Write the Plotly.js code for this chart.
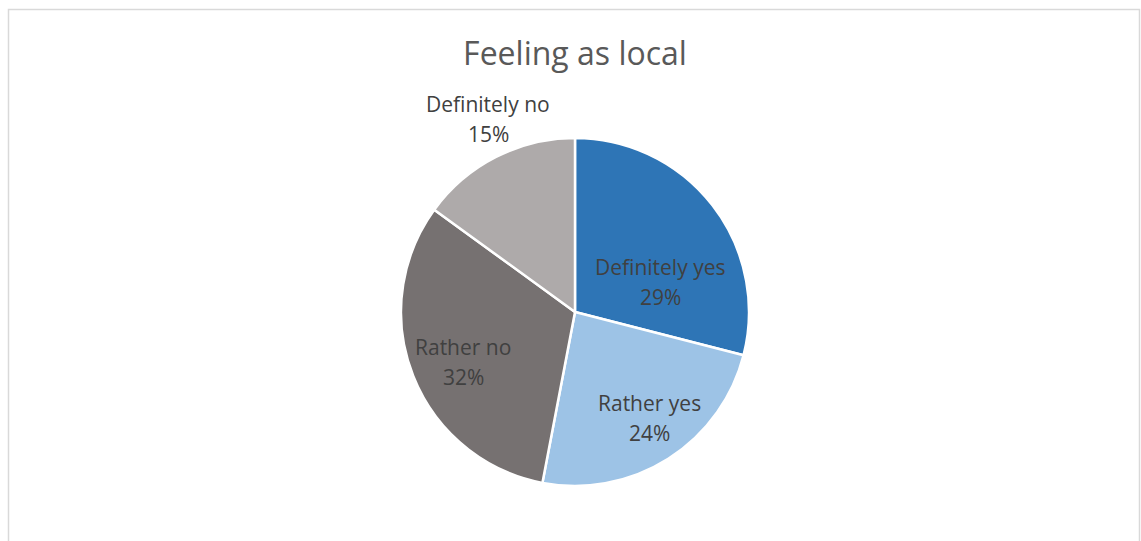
<!DOCTYPE html>
<html><head><meta charset="utf-8">
<script src="https://cdn.plot.ly/plotly-3.0.1.min.js"></script>
<style>html,body{margin:0;padding:0;background:#fff}#chart{width:1141px;height:541px}</style>
</head><body><div id="chart"></div>
<script>
const categories = ["Definitely yes", "Rather yes", "Rather no", "Definitely no"];
const values = [29, 24, 32, 15];
const colors = ["#2E75B6", "#9DC3E6", "#767171", "#AEAAAA"];

const W = 1141, H = 541;
const cx = 575, cy = 312, r = 174;
// label centre positions in pixels (style, Excel "best fit" placement)
const labelPos = [[660, 267], [649, 403], [463, 347], [488, 104]];
const lineGap = 30;
const FONT = "'Open Sans', 'Noto Sans', sans-serif";

const total = values.reduce((a, b) => a + b, 0);

const trace = {
  type: "pie",
  labels: categories,
  values: values,
  sort: false,
  direction: "clockwise",
  rotation: 0,
  marker: {colors: colors, line: {color: "#ffffff", width: 2.5}},
  textinfo: "none",
  hoverinfo: "none",
  showlegend: false,
  automargin: false,
  domain: {x: [(cx - r) / W, (cx + r) / W], y: [(H - cy - r) / H, (H - cy + r) / H]}
};

const annotations = [];
categories.forEach((c, i) => {
  const [px, py] = labelPos[i];
  const pct = Math.round(values[i] / total * 100) + "%";
  [[c, py], [pct, py + lineGap]].forEach(([t, y]) => {
    annotations.push({
      text: t, showarrow: false, xref: "paper", yref: "paper",
      x: px / W, y: 1 - y / H, xanchor: "center", yanchor: "middle",
      font: {family: FONT, size: 21, color: "#404040"}
    });
  });
});

const layout = {
  width: W, height: H,
  margin: {l: 0, r: 0, t: 0, b: 0},
  paper_bgcolor: "#ffffff",
  title: {text: "Feeling as local", x: 575 / W, xanchor: "center", y: 1 - 54 / H, yanchor: "middle",
          font: {family: FONT, size: 32, color: "#595959"}},
  annotations: annotations,
  shapes: [{type: "rect", xref: "paper", yref: "paper",
            x0: 8.5 / W, x1: 1139.5 / W, y0: -0.05, y1: 1 - 9.5 / H,
            line: {color: "#D9D9D9", width: 1.5}}]
};

Plotly.newPlot("chart", [trace], layout, {displayModeBar: false, staticPlot: true});
</script></body></html>
